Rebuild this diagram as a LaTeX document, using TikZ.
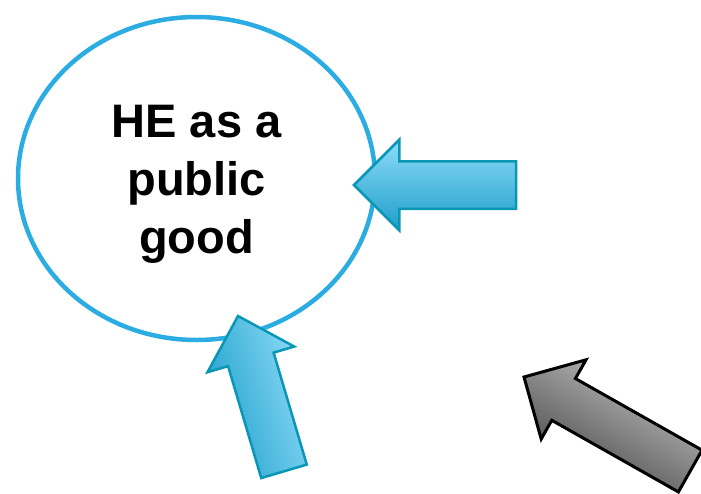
\documentclass[tikz,border=0pt]{standalone}
\usepackage{fontspec}
\setmainfont{Liberation Sans}
\usepackage{tikz}
\usetikzlibrary{positioning,shapes.geometric,shapes.arrows}
\definecolor{RingBlue}{HTML}{2BACE2}
\definecolor{ArrowEdge}{HTML}{0A97B6}
\definecolor{ArrowLight}{HTML}{8DDCF8}
\definecolor{ArrowDark}{HTML}{1E9ECB}
\definecolor{GreyLight}{HTML}{C4C4C4}
\definecolor{GreyDark}{HTML}{444444}
\tikzstyle{every block arrow} = []
\tikzstyle{ring} = [ellipse, draw=RingBlue, line width=4.5pt, inner sep=0pt,
minimum width=357pt, minimum height=323pt]
\tikzstyle{motto} = [align=center, inner sep=0pt,
font=\fontsize{47}{58}\selectfont\bfseries]
\tikzstyle{block arrow} = [single arrow, draw=ArrowEdge, line width=2.5pt,
inner sep=0pt, inner ysep=22.5pt, outer sep=0pt,
minimum width=88pt, minimum height=162pt,
single arrow head extend=21.5pt, single arrow tip angle=90,
anchor=tip, top color=ArrowLight, bottom color=ArrowDark,
every block arrow]
\tikzstyle{grey arrow} = [block arrow, draw=black, line width=3pt,
minimum height=191pt, top color=GreyLight, bottom color=GreyDark]

\begin{document}
\begin{tikzpicture}[x=1pt, y=-1pt]
	\useasboundingbox (0,0) rectangle (701,493);
	\node[ring] (good) at (196.5,178.5) {};
	\node[motto] (goodtext) at ([yshift=-6pt]good.center) {HE as a\\public\\good};

	\node[block arrow, rotate=180] (side) at (354,185) {};
	\node[block arrow, rotate=106.5, shading angle=-73.5] (below) at (238,316) {};
	\node[grey arrow, rotate=150.5, shading angle=-29.5] (far) at (524,377) {};
\end{tikzpicture}
\end{document}
